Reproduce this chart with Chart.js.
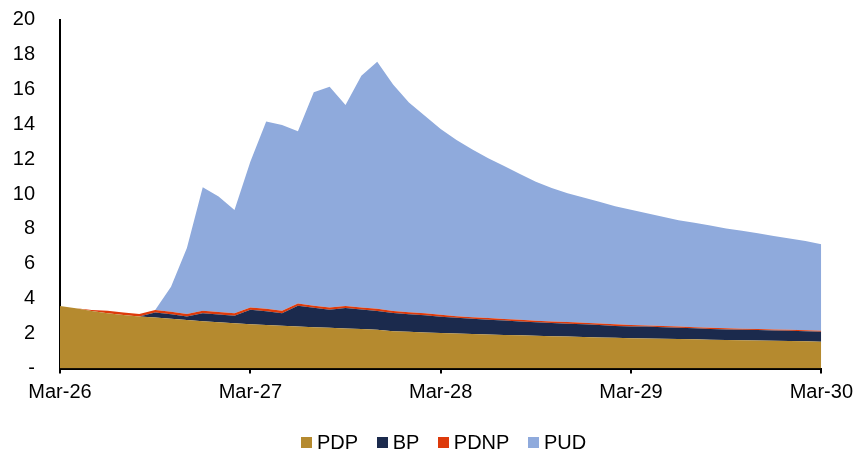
<!DOCTYPE html>
<html>
<head>
<meta charset="utf-8">
<script src="https://cdn.jsdelivr.net/npm/chart.js@4.4.1/dist/chart.umd.min.js"></script>
<style>
  html, body { margin: 0; padding: 0; background: #fff; }
  #wrap { position: relative; width: 860px; height: 451px; }
  #legend {
    position: absolute; left: 301px; top: 430px; height: 24px;
    display: flex; align-items: center;
    font: 20px 'Liberation Sans', Arial, sans-serif; color: #000;
  }
  #legend .item { display: flex; align-items: center; margin-right: 18.5px; }
  #legend .box { width: 11px; height: 11px; margin-right: 5px; }
</style>
</head>
<body>
<div id="wrap">
  <canvas id="chart" width="860" height="451"></canvas>
  <div id="legend"></div>
</div>
<script>
// monthly categories, Mar-26 .. Mar-30
const MONTH_NAMES = ['Mar', 'Apr', 'May', 'Jun', 'Jul', 'Aug', 'Sep', 'Oct', 'Nov', 'Dec', 'Jan', 'Feb'];
const labels = [];
for (let i = 0; i <= 48; i++) {
  const yr = 26 + Math.floor((i + 2) / 12);
  labels.push(MONTH_NAMES[i % 12] + '-' + yr);
}

const PDP = [
  3.58, 3.45, 3.30, 3.17, 3.07, 2.98, 2.92, 2.85, 2.78, 2.71, 2.65, 2.59, 2.53,
  2.49, 2.45, 2.41, 2.37, 2.33, 2.29, 2.26, 2.22, 2.14, 2.10, 2.06, 2.03,
  2.00, 1.97, 1.95, 1.92, 1.90, 1.87, 1.85, 1.83, 1.81, 1.78, 1.76, 1.74,
  1.72, 1.70, 1.69, 1.67, 1.65, 1.64, 1.62, 1.60, 1.59, 1.57, 1.56, 1.54
];
const BP = [
  0, 0, 0, 0, 0, 0, 0.29, 0.26, 0.20, 0.46, 0.45, 0.43, 0.83,
  0.79, 0.72, 1.18, 1.11, 1.04, 1.17, 1.12, 1.08, 1.04, 1.01, 0.99, 0.93,
  0.91, 0.88, 0.85, 0.83, 0.80, 0.78, 0.76, 0.74, 0.72, 0.71, 0.68, 0.66,
  0.68, 0.67, 0.65, 0.64, 0.62, 0.60, 0.60, 0.60, 0.59, 0.59, 0.57, 0.57
];
const PDNP = [
  0, 0, 0.05, 0.14, 0.14, 0.14, 0.14, 0.14, 0.14, 0.14, 0.14, 0.14, 0.14,
  0.14, 0.14, 0.14, 0.12, 0.12, 0.12, 0.12, 0.12, 0.12, 0.12, 0.12, 0.12,
  0.09, 0.09, 0.09, 0.09, 0.09, 0.09, 0.09, 0.09, 0.09, 0.09, 0.09, 0.09,
  0.06, 0.06, 0.06, 0.06, 0.06, 0.06, 0.06, 0.06, 0.06, 0.06, 0.06, 0.06
];
const PUD = [
  0, 0, 0, 0, 0, 0, 0, 1.43, 3.78, 7.07, 6.61, 5.92, 8.35,
  10.73, 10.64, 9.87, 12.23, 12.66, 11.52, 13.28, 14.16, 12.98, 12.02, 11.32, 10.64,
  10.10, 9.61, 9.16, 8.76, 8.36, 7.96, 7.65, 7.39, 7.18, 6.97, 6.77, 6.61,
  6.44, 6.27, 6.10, 5.98, 5.87, 5.73, 5.62, 5.49, 5.36, 5.23, 5.11, 4.95
];

const COLORS = { pdp: '#B58A2F', bp: '#1B2A4D', pdnp: '#DD3A0B', pud: '#8FAADC' };
const font = { family: "'Liberation Sans', Arial, sans-serif", size: 20 };

function area(label, data, color, fill) {
  return { label, data, backgroundColor: color, borderColor: color, borderWidth: 0, fill, pointRadius: 0, tension: 0 };
}

const chart = new Chart(document.getElementById('chart'), {
  type: 'line',
  data: {
    labels,
    datasets: [
      area('PDP', PDP, COLORS.pdp, 'origin'),
      area('BP', BP, COLORS.bp, '-1'),
      area('PDNP', PDNP, COLORS.pdnp, '-1'),
      area('PUD', PUD, COLORS.pud, '-1'),
    ],
  },
  options: {
    responsive: false,
    animation: false,
    layout: { padding: { left: 0, right: 36, top: 19.5, bottom: 30.5 } },
    plugins: {
      tooltip: { enabled: false },
      legend: { display: false },
    },
    scales: {
      x: {
        type: 'category',
        offset: false,
        border: { color: '#000', width: 2 },
        grid: {
          drawOnChartArea: false,
          drawTicks: true,
          tickLength: 5,
          lineWidth: 2,
          color: ctx => (ctx.index % 12 === 0 ? '#000' : 'rgba(0,0,0,0)'),
        },
        ticks: {
          autoSkip: false,
          maxRotation: 0,
          padding: 7,
          color: '#000',
          font,
          callback: function (v, i) { return i % 12 === 0 ? this.getLabelForValue(v) : ''; },
        },
        afterFit(s) { s.height = 52; },
      },
      y: {
        stacked: true,
        min: 0,
        max: 20,
        border: { color: '#000', width: 2 },
        // tick marks hidden; tickLength only spaces the labels away from the axis
        grid: { display: false, drawTicks: true, tickLength: 22 },
        ticks: { stepSize: 2, padding: 3, color: '#000', font, callback: v => (v === 0 ? '-' : v) },
        afterFit(s) { s.width = 60; },
      },
    },
  },
});

// legend as html below the plot
const legendEl = document.getElementById('legend');
chart.data.datasets.forEach(ds => {
  const item = document.createElement('span');
  item.className = 'item';
  const box = document.createElement('span');
  box.className = 'box';
  box.style.background = ds.backgroundColor;
  item.appendChild(box);
  item.appendChild(document.createTextNode(ds.label));
  legendEl.appendChild(item);
});
</script>
</body>
</html>
